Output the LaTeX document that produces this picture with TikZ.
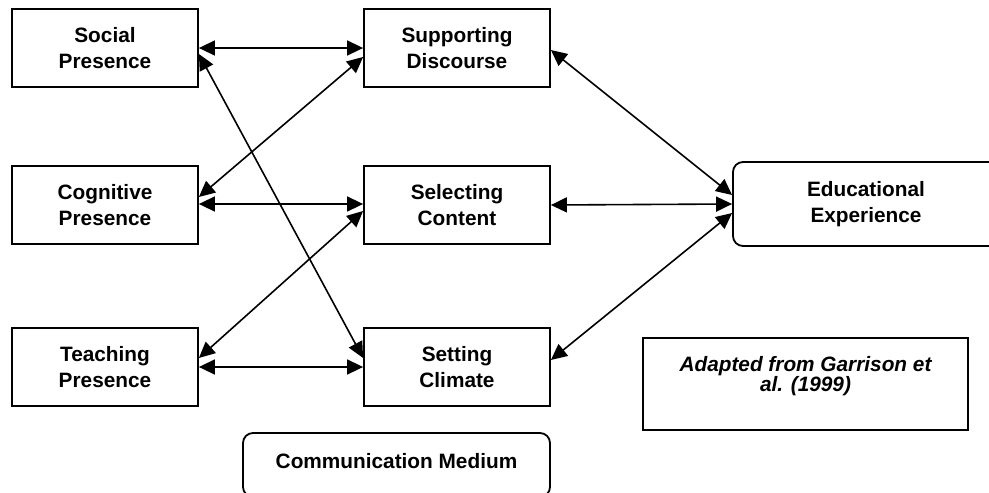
\documentclass[tikz,border=0pt]{standalone}
\usepackage{fontspec}
\setmainfont{Liberation Sans}
\usetikzlibrary{arrows.meta}
\begin{document}
\begin{tikzpicture}[x=1pt,y=-1pt,
  labelfont/.style={font=\bfseries\fontsize{20.8}{26}\selectfont},
  box/.style={draw, line width=1.8pt, minimum width=186pt, minimum height=78pt,
    inner sep=0pt, align=center, labelfont},
  roundbox/.style={draw, line width=1.8pt, rounded corners=10pt, inner sep=0pt,
    align=center, labelfont},
  notebox/.style={draw, line width=1.8pt, inner sep=0pt, align=center,
    font=\bfseries\itshape\fontsize{20.8}{20}\selectfont},
  link/.style={line width=1.6pt,
    {Triangle[length=16pt,width=15pt]}-{Triangle[length=16pt,width=15pt]}}]

  % page
  \fill[white] (0,0) rectangle (989,493);
  \useasboundingbox (0,0) rectangle (989,493);

  % presences
  \node[box] (social)    at (105,48)  {Social\\Presence};
  \node[box] (cognitive) at (105,205) {Cognitive\\Presence};
  \node[box] (teaching)  at (105,367) {Teaching\\Presence};

  % activities
  \node[box] (supporting) at (457,48)  {Supporting\\Discourse};
  \node[box] (selecting)  at (457,205) {Selecting\\Content};
  \node[box] (setting)    at (457,367) {Setting\\Climate};

  % outcome and medium
  \node[roundbox, minimum width=266pt, minimum height=84pt] (educational)
    at (866,204) {Educational\\Experience};
  \node[roundbox, minimum width=307pt, minimum height=64pt,
        text height=15pt, text depth=9pt] (comm)
    at (396.5,465) {Communication Medium};

  % source note
  \node[notebox, minimum width=325pt, minimum height=92pt] (adapted)
    at (805.5,384) {Adapted from Garrison et\\al. (1999)\\\mbox{}};

  % links between presences and activities
  \draw[link] (social.east) -- (supporting.west);
  \draw[link] ([yshift=-6pt]social.east) -- ([yshift=9pt]setting.west);
  \draw[link] ([yshift=-9pt]supporting.west) -- ([yshift=8pt]cognitive.east);
  \draw[link] ([yshift=1pt]cognitive.east) -- ([yshift=1pt]selecting.west);
  \draw[link] ([yshift=-6pt]selecting.west) -- ([yshift=9pt]teaching.east);
  \draw[link] (teaching.east) -- (setting.west);

  % links from activities to the educational experience
  \draw[link] ([yshift=-2pt]supporting.east) -- ([yshift=9pt]educational.west);
  \draw[link] (selecting.east) -- (educational.west);
  \draw[link] ([yshift=7pt]setting.east) -- ([yshift=-9pt]educational.west);
\end{tikzpicture}
\end{document}
